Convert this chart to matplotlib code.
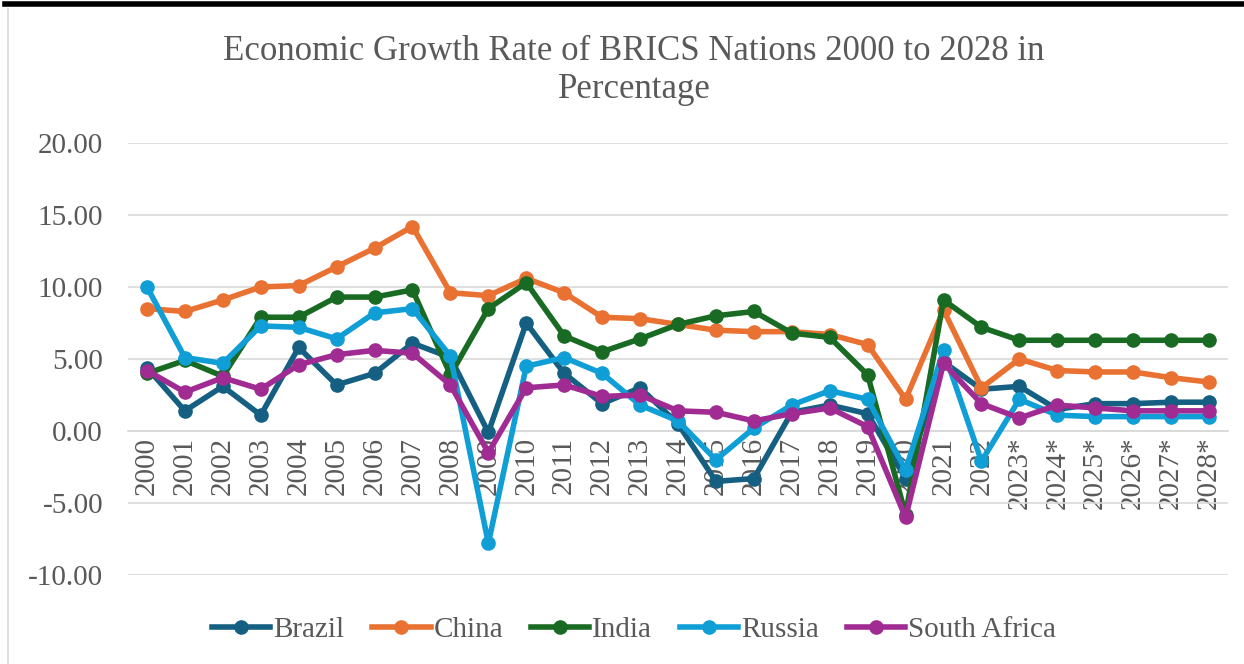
import matplotlib
matplotlib.use("Agg")
import matplotlib.pyplot as plt
import numpy as np
from matplotlib.lines import Line2D
from matplotlib.ticker import FormatStrFormatter, MultipleLocator

plt.rcParams['font.family'] = ['Liberation Serif', 'DejaVu Serif']
plt.rcParams['axes.unicode_minus'] = False

years = ['2000', '2001', '2002', '2003', '2004', '2005', '2006', '2007', '2008', '2009',
         '2010', '2011', '2012', '2013', '2014', '2015', '2016', '2017', '2018', '2019',
         '2020', '2021', '2022', '2023*', '2024*', '2025*', '2026*', '2027*', '2028*']

brazil = [4.4, 1.4, 3.1, 1.1, 5.8, 3.2, 4.0, 6.1, 5.1, -0.1,
          7.5, 4.0, 1.9, 3.0, 0.5, -3.5, -3.3, 1.3, 1.8, 1.2,
          -3.3, 4.8, 2.9, 3.1, 1.5, 1.9, 1.9, 2.0, 2.0]
china = [8.5, 8.3, 9.1, 10.0, 10.1, 11.4, 12.7, 14.2, 9.6, 9.4,
         10.6, 9.6, 7.9, 7.8, 7.4, 7.0, 6.9, 6.9, 6.7, 6.0,
         2.2, 8.4, 3.0, 5.0, 4.2, 4.1, 4.1, 3.7, 3.4]
india = [4.0, 4.9, 3.8, 7.9, 7.9, 9.3, 9.3, 9.8, 3.9, 8.5,
         10.3, 6.6, 5.5, 6.4, 7.4, 8.0, 8.3, 6.8, 6.5, 3.9,
         -5.8, 9.1, 7.2, 6.3, 6.3, 6.3, 6.3, 6.3, 6.3]
russia = [10.0, 5.1, 4.7, 7.3, 7.2, 6.4, 8.2, 8.5, 5.2, -7.8,
          4.5, 5.1, 4.0, 1.8, 0.7, -2.0, 0.2, 1.8, 2.8, 2.2,
          -2.7, 5.6, -2.1, 2.2, 1.1, 1.0, 1.0, 1.0, 1.0]
south_africa = [4.2, 2.7, 3.7, 2.9, 4.6, 5.3, 5.6, 5.4, 3.2, -1.5,
                3.0, 3.2, 2.4, 2.5, 1.4, 1.3, 0.7, 1.2, 1.6, 0.3,
                -6.0, 4.7, 1.9, 0.9, 1.8, 1.6, 1.4, 1.4, 1.4]

series = [('Brazil', brazil, '#156082'),
          ('China', china, '#E97132'),
          ('India', india, '#196B24'),
          ('Russia', russia, '#0F9ED5'),
          ('South Africa', south_africa, '#A02B93')]

W, H = 1244, 664
fig = plt.figure(figsize=(W / 100, H / 100), dpi=100)
fig.patch.set_facecolor('white')

# frame decorations
fig.add_artist(Line2D([5 / W, 1.0], [1 - 4 / H, 1 - 4 / H], color='black', lw=4.0))
fig.add_artist(Line2D([8 / W, 8 / W], [0, 1 - 9 / H], color='#D9D9D9', lw=1.2))

left, right = 128, 1228
top, bottom = 143, 575
ax = fig.add_axes([left / W, 1 - bottom / H, (right - left) / W, (bottom - top) / H])

grey = '#595959'
x = np.arange(len(years))
for name, vals, col in series:
    ax.plot(x, vals, color=col, lw=4.0, marker='o', markersize=9.5,
            label=name, solid_joinstyle='round', zorder=3)

ax.set_xlim(-0.5, len(years) - 0.5)
ax.set_ylim(-10, 20)
ax.yaxis.set_major_locator(MultipleLocator(5))
ax.yaxis.set_major_formatter(FormatStrFormatter('%.2f'))
ax.grid(axis='y', color='#D9D9D9', lw=1.2, zorder=0)
ax.set_axisbelow(True)

for s in ['top', 'right', 'left']:
    ax.spines[s].set_visible(False)
ax.spines['bottom'].set_position(('data', 0))
ax.spines['bottom'].set_color('#D9D9D9')
ax.spines['bottom'].set_linewidth(1.2)

ax.set_xticks(x)
ax.set_xticklabels(years, rotation=90, va='top', ha='center')
ax.tick_params(axis='x', length=0, pad=4, labelsize=21, labelcolor=grey)
ax.tick_params(axis='y', length=0, pad=18, labelsize=21, labelcolor=grey)

fig.text(634 / W, 1 - 70 / H, 'Economic Growth Rate of BRICS Nations 2000 to 2028 in\nPercentage',
         ha='center', va='center', fontsize=25, color=grey, linespacing=1.2)

leg = fig.legend(loc='center', bbox_to_anchor=(634 / W, 1 - 630 / H), ncol=5,
                 frameon=False, fontsize=21, handlelength=2.0, handletextpad=0.1,
                 columnspacing=0.95, labelcolor=grey, borderaxespad=0)

fig.savefig('out.png', dpi=100, facecolor='white')
